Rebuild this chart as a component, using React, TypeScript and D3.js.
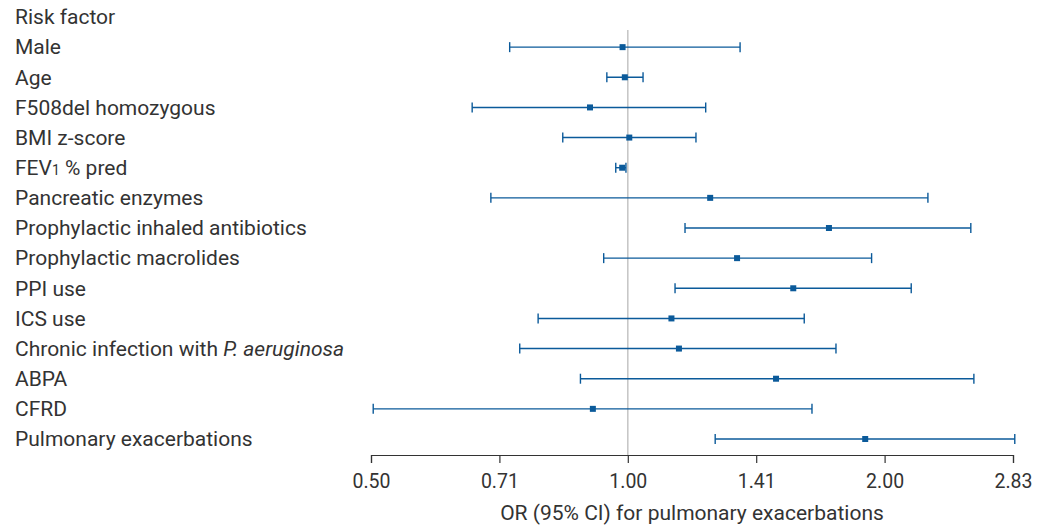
import { useEffect, useRef } from "react";
import * as d3 from "d3";

// risk factors, top to bottom
const factors = [
  "Male",
  "Age",
  "F508del homozygous",
  "BMI z-score",
  "FEV1 % pred",
  "Pancreatic enzymes",
  "Prophylactic inhaled antibiotics",
  "Prophylactic macrolides",
  "PPI use",
  "ICS use",
  "Chronic infection with P. aeruginosa",
  "ABPA",
  "CFRD",
  "Pulmonary exacerbations",
];

// odds ratios and 95% CI
const orValues = [0.986, 0.992, 0.903, 1.004, 0.985, 1.249, 1.721, 1.343, 1.563, 1.125, 1.148, 1.492, 0.91, 1.898];
const ciLow = [0.727, 0.945, 0.657, 0.839, 0.968, 0.691, 1.167, 0.937, 1.136, 0.785, 0.747, 0.88, 0.503, 1.266];
const ciHigh = [1.354, 1.042, 1.234, 1.202, 0.995, 2.248, 2.524, 1.931, 2.149, 1.61, 1.754, 2.545, 1.644, 2.842];

const tickValues = [0.5, 0.7071, 1, 1.4142, 2, 2.8284];
const tickLabels = ["0.50", "0.71", "1.00", "1.41", "2.00", "2.83"];

export default function App() {
  const ref = useRef(null);

  useEffect(() => {
    document.body.style.margin = "0";
    const el = ref.current;
    el.innerHTML = "";

    const width = 1048;
    const height = 525;
    const blue = "#0b5a9a";
    const textColor = "#333";
    const font = "Roboto, 'DejaVu Sans', sans-serif";

    const svg = d3.select(el)
      .append("svg")
      .attr("width", width)
      .attr("height", height)
      .style("display", "block")
      .style("font-family", font);

    const x = d3.scaleLog()
      .base(2)
      .domain([0.5, 2.8284])
      .range([371, 1013]);

    const y = d3.scalePoint()
      .domain(["Risk factor", ...factors])
      .range([17, 439]);

    const axisY = 455;

    // labels
    const labels = svg.append("g")
      .attr("fill", textColor)
      .attr("font-size", 21);

    labels.append("text")
      .attr("x", 15)
      .attr("y", y("Risk factor"))
      .attr("dy", "0.35em")
      .text("Risk factor");

    factors.forEach(f => {
      const t = labels.append("text")
        .attr("x", 15)
        .attr("y", y(f))
        .attr("dy", "0.35em");
      if (f === "FEV1 % pred") {
        t.append("tspan").text("FEV");
        t.append("tspan").attr("font-size", 14).text("1");
        t.append("tspan").text(" % pred");
      } else if (f.startsWith("Chronic")) {
        t.append("tspan").text("Chronic infection with ");
        t.append("tspan").attr("font-style", "italic").text("P. aeruginosa");
      } else {
        t.text(f);
      }
    });

    // reference line at OR = 1
    svg.append("line")
      .attr("x1", x(1))
      .attr("x2", x(1))
      .attr("y1", 30)
      .attr("y2", axisY)
      .attr("stroke", "#c4c4c4")
      .attr("stroke-width", 1.5);

    // CIs
    const rows = svg.append("g")
      .selectAll("g")
      .data(factors)
      .join("g")
      .attr("transform", d => `translate(0,${y(d)})`);

    rows.append("line")
      .attr("x1", (d, i) => x(ciLow[i]))
      .attr("x2", (d, i) => x(ciHigh[i]))
      .attr("stroke", blue)
      .attr("stroke-width", 1.4);

    rows.append("line")
      .attr("x1", (d, i) => x(ciLow[i]))
      .attr("x2", (d, i) => x(ciLow[i]))
      .attr("y1", -5)
      .attr("y2", 5)
      .attr("stroke", blue)
      .attr("stroke-width", 1.4);

    rows.append("line")
      .attr("x1", (d, i) => x(ciHigh[i]))
      .attr("x2", (d, i) => x(ciHigh[i]))
      .attr("y1", -5)
      .attr("y2", 5)
      .attr("stroke", blue)
      .attr("stroke-width", 1.4);

    rows.append("rect")
      .attr("x", (d, i) => x(orValues[i]) - 3)
      .attr("y", -3)
      .attr("width", 6)
      .attr("height", 6)
      .attr("fill", blue);

    // x axis
    const axis = svg.append("g")
      .attr("transform", `translate(0,${axisY})`)
      .call(
        d3.axisBottom(x)
          .tickValues(tickValues)
          .tickFormat((d, i) => tickLabels[i])
          .tickSize(8)
          .tickPadding(11)
      );
    axis.select(".domain").attr("stroke", "#333").attr("stroke-width", 1.2);
    axis.selectAll(".tick line").attr("stroke", "#333").attr("stroke-width", 1.2);
    axis.selectAll(".tick text")
      .attr("fill", textColor)
      .attr("font-size", 19.5)
      .attr("font-family", font);

    svg.append("text")
      .attr("x", (x(0.5) + x(2.8284)) / 2)
      .attr("y", 513)
      .attr("dy", "0.35em")
      .attr("text-anchor", "middle")
      .attr("fill", textColor)
      .attr("font-size", 21)
      .text("OR (95% CI) for pulmonary exacerbations");
  }, []);

  return <div ref={ref} />;
}
